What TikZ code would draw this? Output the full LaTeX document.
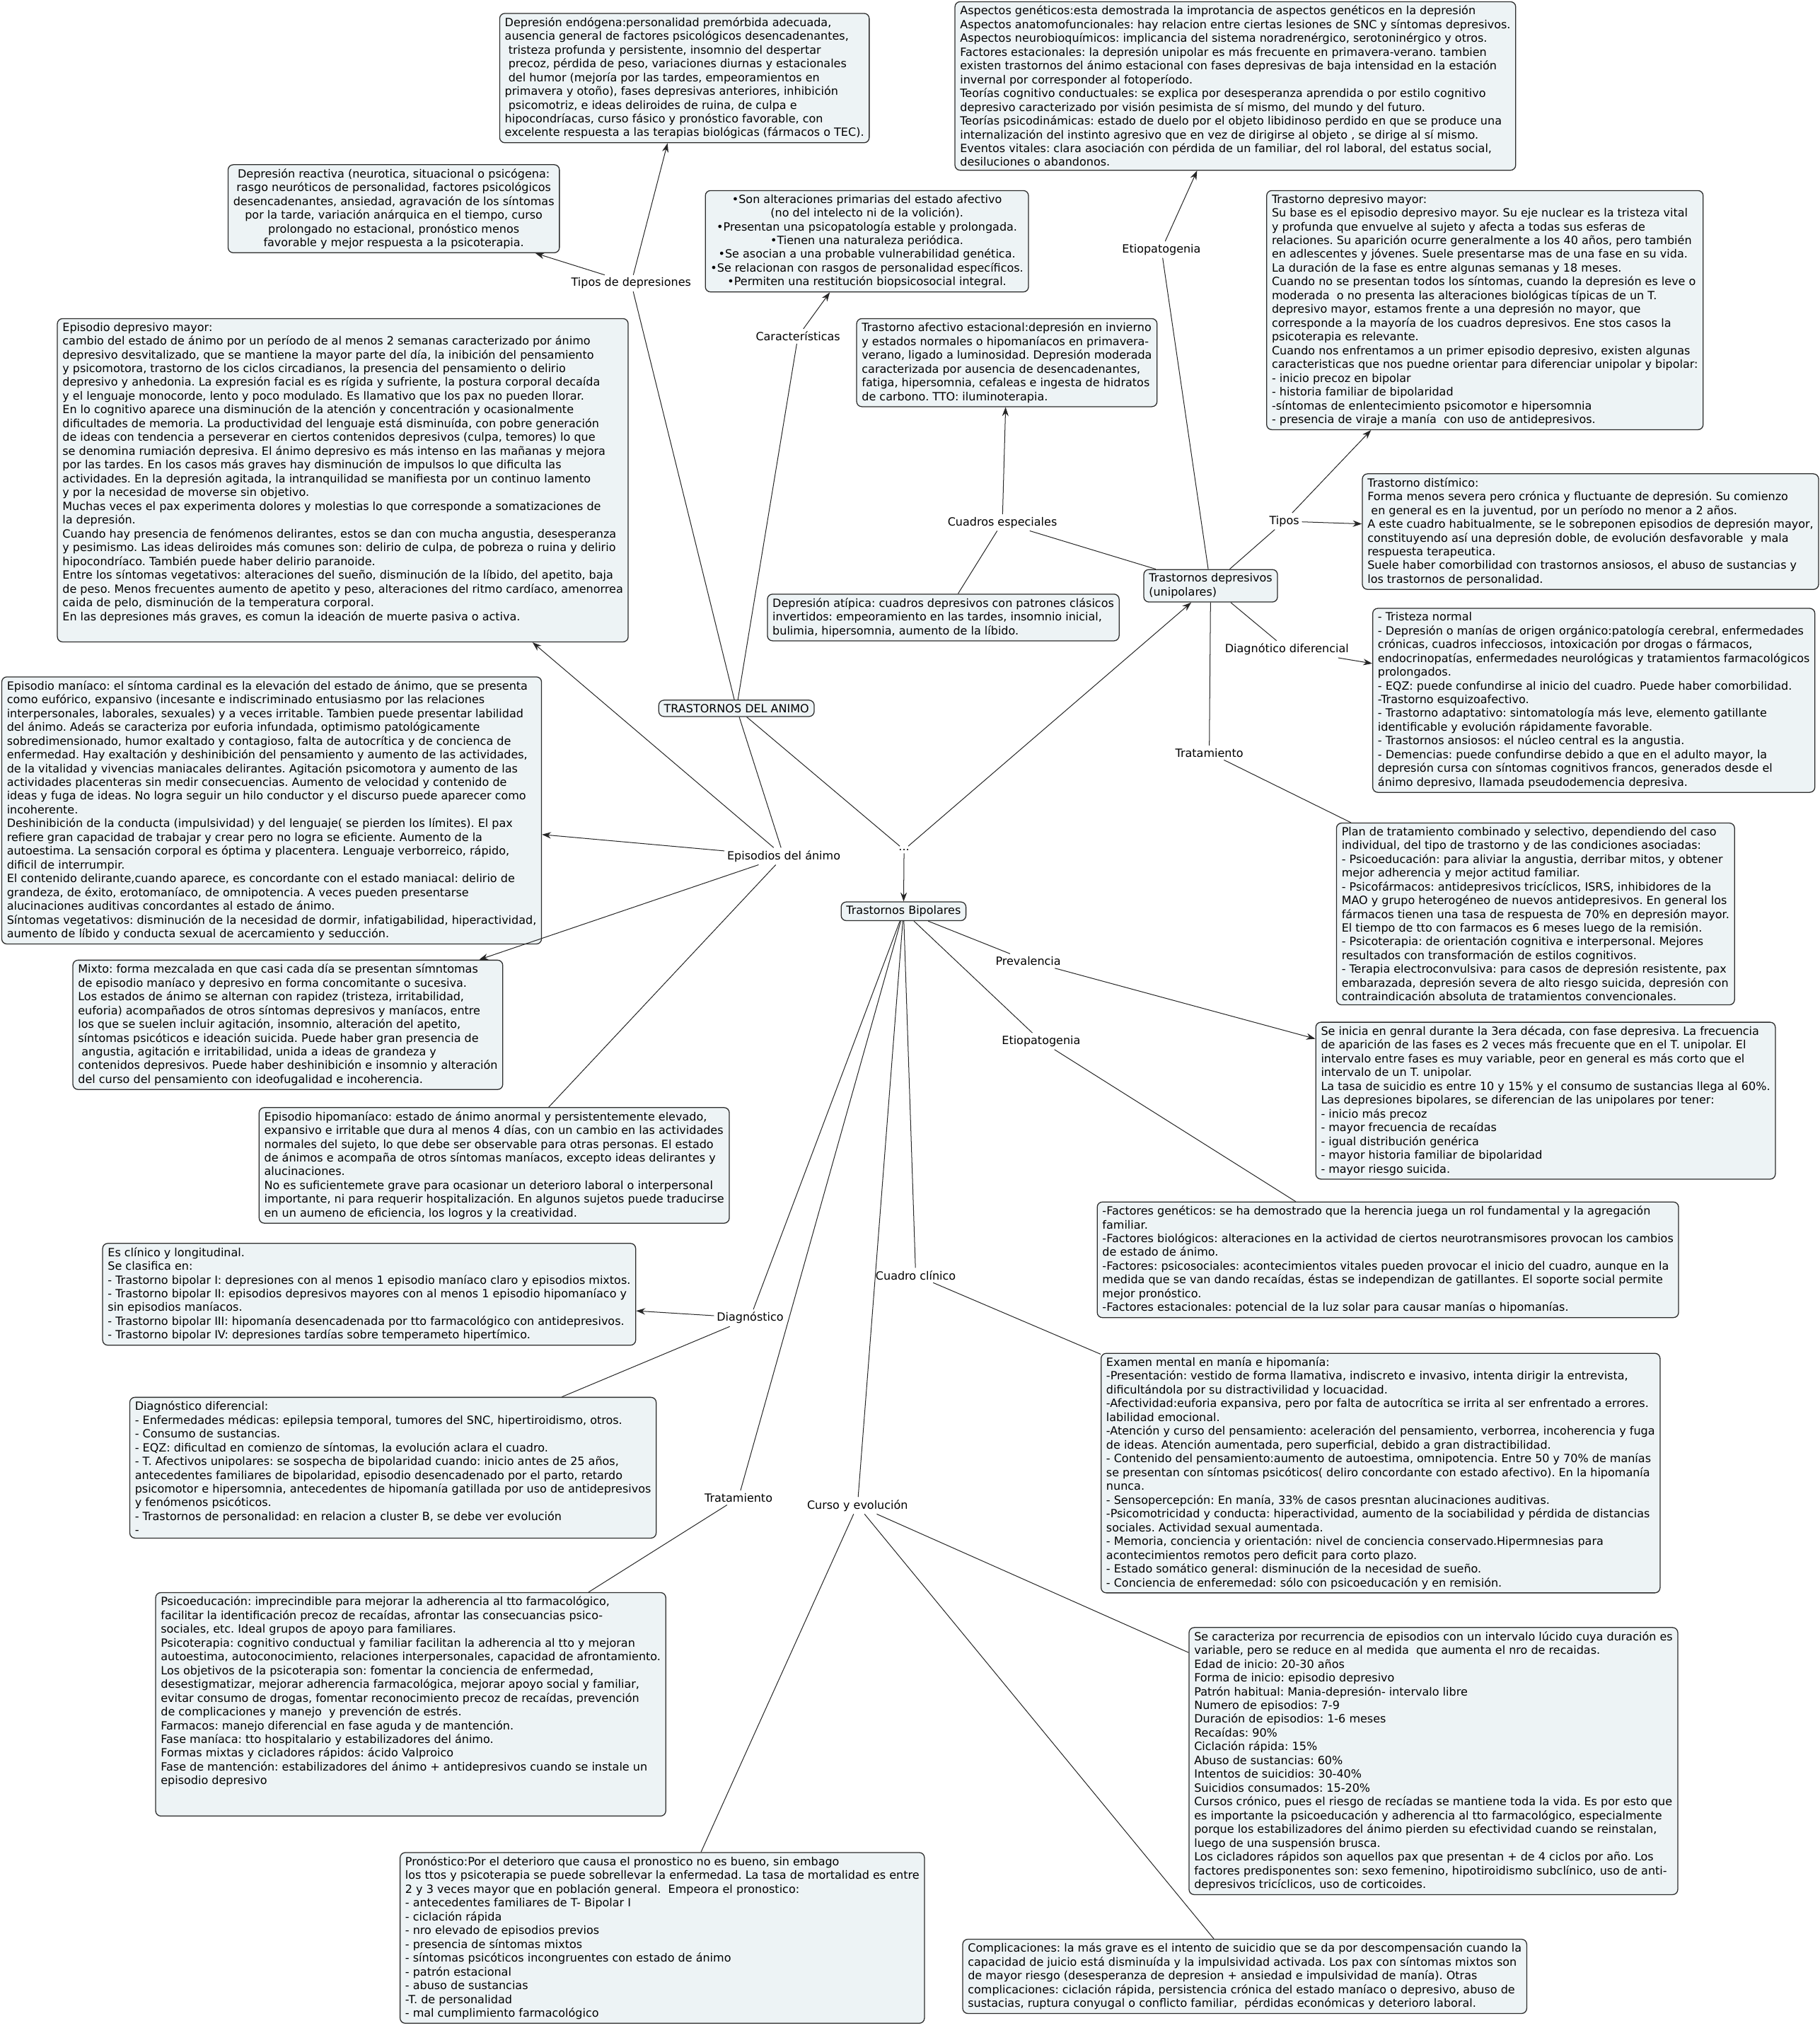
\documentclass[tikz,border=0pt]{standalone}
\usepackage{fontspec}
\setmainfont{DejaVu Sans}
\usetikzlibrary{arrows.meta}
\frenchspacing

\definecolor{boxfill}{RGB}{237,243,245}
\definecolor{boxline}{RGB}{45,45,45}

\tikzset{
	mapfont/.style={font=\fontsize{8.75}{10.65}\selectfont},
	concept/.style={mapfont, draw=boxline, fill=boxfill, rounded corners=4pt, line width=0.7pt,
		align=left, anchor=north west, inner xsep=4pt, inner ysep=3pt},
	centred/.style={concept, align=center},
	linkphrase/.style={mapfont, inner sep=2pt},
	conn/.style={draw=black!85, line width=0.55pt},
	arr/.style={conn, -{Stealth[length=7pt,width=5pt]}}
}

\begin{document}
\begin{tikzpicture}[x=1pt,y=-1pt]
	
	\useasboundingbox (0,0) rectangle (1407,1568);
	
	% Main concepts
	\node[concept] (tda) at (509,541) {TRASTORNOS DEL ANIMO};
	\node[concept] (tdep) at (884,440) {Trastornos depresivos\\(unipolares)};
	\node[concept] (tb) at (650,697) {Trastornos Bipolares};
	
	% Tipos de depresiones
	\node[concept] (endog) at (386,10) {Depresión endógena:personalidad premórbida adecuada,\\
		ausencia general de factores psicológicos desencadenantes,\\
		\ tristeza profunda y persistente, insomnio del despertar\\
		\ precoz, pérdida de peso, variaciones diurnas y estacionales\\
		\ del humor (mejoría por las tardes, empeoramientos en\\
		primavera y otoño), fases depresivas anteriores, inhibición\\
		\ psicomotriz, e ideas deliroides de ruina, de culpa e\\
		hipocondríacas, curso fásico y pronóstico favorable, con\\
		excelente respuesta a las terapias biológicas (fármacos o TEC).};
	\node[centred] (reac) at (176,127) {Depresión reactiva (neurotica, situacional o psicógena:\\
		rasgo neuróticos de personalidad, factores psicológicos\\
		desencadenantes, ansiedad, agravación de los síntomas\\
		por la tarde, variación anárquica en el tiempo, curso\\
		prolongado no estacional, pronóstico menos\\
		favorable y mejor respuesta a la psicoterapia.};
	
	% Caracteristicas
	\node[centred] (caractbox) at (545,147) {•Son alteraciones primarias del estado afectivo\\
		(no del intelecto ni de la volición).\\
		•Presentan una psicopatología estable y prolongada.\\
		•Tienen una naturaleza periódica.\\
		•Se asocian a una probable vulnerabilidad genética.\\
		•Se relacionan con rasgos de personalidad específicos.\\
		•Permiten una restitución biopsicosocial integral.};
	
	% Etiopatogenia (unipolares)
	\node[concept] (aspect) at (738,1) {Aspectos genéticos:esta demostrada la improtancia de aspectos genéticos en la depresión\\
		Aspectos anatomofuncionales: hay relacion entre ciertas lesiones de SNC y síntomas depresivos.\\
		Aspectos neurobioquímicos: implicancia del sistema noradrenérgico, serotoninérgico y otros.\\
		Factores estacionales: la depresión unipolar es más frecuente en primavera-verano. tambien\\
		existen trastornos del ánimo estacional con fases depresivas de baja intensidad en la estación\\
		invernal por corresponder al fotoperíodo.\\
		Teorías cognitivo conductuales: se explica por desesperanza aprendida o por estilo cognitivo\\
		depresivo caracterizado por visión pesimista de sí mismo, del mundo y del futuro.\\
		Teorías psicodinámicas: estado de duelo por el objeto libidinoso perdido en que se produce una\\
		internalización del instinto agresivo que en vez de dirigirse al objeto , se dirige al sí mismo.\\
		Eventos vitales: clara asociación con pérdida de un familiar, del rol laboral, del estatus social,\\
		desiluciones o abandonos.};
	
	% Tipos (unipolares)
	\node[concept] (tdm) at (979,147) {Trastorno depresivo mayor:\\
		Su base es el episodio depresivo mayor. Su eje nuclear es la tristeza vital\\
		y profunda que envuelve al sujeto y afecta a todas sus esferas de\\
		relaciones. Su aparición ocurre generalmente a los 40 años, pero también\\
		en adlescentes y jóvenes. Suele presentarse mas de una fase en su vida.\\
		La duración de la fase es entre algunas semanas y 18 meses.\\
		Cuando no se presentan todos los síntomas, cuando la depresión es leve o\\
		moderada \ o no presenta las alteraciones biológicas típicas de un T.\\
		depresivo mayor, estamos frente a una depresión no mayor, que\\
		corresponde a la mayoría de los cuadros depresivos. Ene stos casos la\\
		psicoterapia es relevante.\\
		Cuando nos enfrentamos a un primer episodio depresivo, existen algunas\\
		caracteristicas que nos puedne orientar para diferenciar unipolar y bipolar:\\
		- inicio precoz en bipolar\\
		- historia familiar de bipolaridad\\
		-síntomas de enlentecimiento psicomotor e hipersomnia\\
		- presencia de viraje a manía \ con uso de antidepresivos.};
	\node[concept] (distim) at (1053,366) {Trastorno distímico:\\
		Forma menos severa pero crónica y fluctuante de depresión. Su comienzo\\
		\ en general es en la juventud, por un período no menor a 2 años.\\
		A este cuadro habitualmente, se le sobreponen episodios de depresión mayor,\\
		constituyendo así una depresión doble, de evolución desfavorable \ y mala\\
		respuesta terapeutica.\\
		Suele haber comorbilidad con trastornos ansiosos, el abuso de sustancias y\\
		los trastornos de personalidad.};
	
	% Cuadros especiales
	\node[concept] (estac) at (662,246) {Trastorno afectivo estacional:depresión en invierno\\
		y estados normales o hipomaníacos en primavera-\\
		verano, ligado a luminosidad. Depresión moderada\\
		caracterizada por ausencia de desencadenantes,\\
		fatiga, hipersomnia, cefaleas e ingesta de hidratos\\
		de carbono. TTO: iluminoterapia.};
	\node[concept] (atip) at (593,459) {Depresión atípica: cuadros depresivos con patrones clásicos\\
		invertidos: empeoramiento en las tardes, insomnio inicial,\\
		bulimia, hipersomnia, aumento de la líbido.};
	
	% Diagnostico diferencial y tratamiento (unipolares)
	\node[concept] (trist) at (1061,470) {- Tristeza normal\\
		- Depresión o manías de origen orgánico:patología cerebral, enfermedades\\
		crónicas, cuadros infecciosos, intoxicación por drogas o fármacos,\\
		endocrinopatías, enfermedades neurológicas y tratamientos farmacológicos\\
		prolongados.\\
		- EQZ: puede confundirse al inicio del cuadro. Puede haber comorbilidad.\\
		-Trastorno esquizoafectivo.\\
		- Trastorno adaptativo: sintomatología más leve, elemento gatillante\\
		identificable y evolución rápidamente favorable.\\
		- Trastornos ansiosos: el núcleo central es la angustia.\\
		- Demencias: puede confundirse debido a que en el adulto mayor, la\\
		depresión cursa con síntomas cognitivos francos, generados desde el\\
		ánimo depresivo, llamada pseudodemencia depresiva.};
	\node[concept] (plan) at (1033,636) {Plan de tratamiento combinado y selectivo, dependiendo del caso\\
		individual, del tipo de trastorno y de las condiciones asociadas:\\
		- Psicoeducación: para aliviar la angustia, derribar mitos, y obtener\\
		mejor adherencia y mejor actitud familiar.\\
		- Psicofármacos: antidepresivos tricíclicos, ISRS, inhibidores de la\\
		MAO y grupo heterogéneo de nuevos antidepresivos. En general los\\
		fármacos tienen una tasa de respuesta de 70\% en depresión mayor.\\
		El tiempo de tto con farmacos es 6 meses luego de la remisión.\\
		- Psicoterapia: de orientación cognitiva e interpersonal. Mejores\\
		resultados con transformación de estilos cognitivos.\\
		- Terapia electroconvulsiva: para casos de depresión resistente, pax\\
		embarazada, depresión severa de alto riesgo suicida, depresión con\\
		contraindicación absoluta de tratamientos convencionales.};
	
	% Episodios del animo
	\node[concept] (edm) at (44,246) {Episodio depresivo mayor:\\
		cambio del estado de ánimo por un período de al menos 2 semanas caracterizado por ánimo\\
		depresivo desvitalizado, que se mantiene la mayor parte del día, la inibición del pensamiento\\
		y psicomotora, trastorno de los ciclos circadianos, la presencia del pensamiento o delirio\\
		depresivo y anhedonia. La expresión facial es es rígida y sufriente, la postura corporal decaída\\
		y el lenguaje monocorde, lento y poco modulado. Es llamativo que los pax no pueden llorar.\\
		En lo cognitivo aparece una disminución de la atención y concentración y ocasionalmente\\
		dificultades de memoria. La productividad del lenguaje está disminuída, con pobre generación\\
		de ideas con tendencia a perseverar en ciertos contenidos depresivos (culpa, temores) lo que\\
		se denomina rumiación depresiva. El ánimo depresivo es más intenso en las mañanas y mejora\\
		por las tardes. En los casos más graves hay disminución de impulsos lo que dificulta las\\
		actividades. En la depresión agitada, la intranquilidad se manifiesta por un continuo lamento\\
		y por la necesidad de moverse sin objetivo.\\
		Muchas veces el pax experimenta dolores y molestias lo que corresponde a somatizaciones de\\
		la depresión.\\
		Cuando hay presencia de fenómenos delirantes, estos se dan con mucha angustia, desesperanza\\
		y pesimismo. Las ideas deliroides más comunes son: delirio de culpa, de pobreza o ruina y delirio\\
		hipocondríaco. También puede haber delirio paranoide.\\
		Entre los síntomas vegetativos: alteraciones del sueño, disminución de la líbido, del apetito, baja\\
		de peso. Menos frecuentes aumento de apetito y peso, alteraciones del ritmo cardíaco, amenorrea\\
		caida de pelo, disminución de la temperatura corporal.\\
		En las depresiones más graves, es comun la ideación de muerte pasiva o activa.\\[3pt] ~};
	\node[concept] (mania) at (1,523) {Episodio maníaco: el síntoma cardinal es la elevación del estado de ánimo, que se presenta\\
		como eufórico, expansivo (incesante e indiscriminado entusiasmo por las relaciones\\
		interpersonales, laborales, sexuales) y a veces irritable. Tambien puede presentar labilidad\\
		del ánimo. Adeás se caracteriza por euforia infundada, optimismo patológicamente\\
		sobredimensionado, humor exaltado y contagioso, falta de autocrítica y de concienca de\\
		enfermedad. Hay exaltación y deshinibición del pensamiento y aumento de las actividades,\\
		de la vitalidad y vivencias maniacales delirantes. Agitación psicomotora y aumento de las\\
		actividades placenteras sin medir consecuencias. Aumento de velocidad y contenido de\\
		ideas y fuga de ideas. No logra seguir un hilo conductor y el discurso puede aparecer como\\
		incoherente.\\
		Deshinibición de la conducta (impulsividad) y del lenguaje( se pierden los límites). El pax\\
		refiere gran capacidad de trabajar y crear pero no logra se eficiente. Aumento de la\\
		autoestima. La sensación corporal es óptima y placentera. Lenguaje verborreico, rápido,\\
		dificil de interrumpir.\\
		El contenido delirante,cuando aparece, es concordante con el estado maniacal: delirio de\\
		grandeza, de éxito, erotomaníaco, de omnipotencia. A veces pueden presentarse\\
		alucinaciones auditivas concordantes al estado de ánimo.\\
		Síntomas vegetativos: disminución de la necesidad de dormir, infatigabilidad, hiperactividad,\\
		aumento de líbido y conducta sexual de acercamiento y seducción.};
	\node[concept] (mixto) at (56,742) {Mixto: forma mezcalada en que casi cada día se presentan símntomas\\
		de episodio maníaco y depresivo en forma concomitante o sucesiva.\\
		Los estados de ánimo se alternan con rapidez (tristeza, irritabilidad,\\
		euforia) acompañados de otros síntomas depresivos y maníacos, entre\\
		los que se suelen incluir agitación, insomnio, alteración del apetito,\\
		síntomas psicóticos e ideación suicida. Puede haber gran presencia de\\
		\ angustia, agitación e irritabilidad, unida a ideas de grandeza y\\
		contenidos depresivos. Puede haber deshinibición e insomnio y alteración\\
		del curso del pensamiento con ideofugalidad e incoherencia.};
	\node[concept] (hipo) at (200,856) {Episodio hipomaníaco: estado de ánimo anormal y persistentemente elevado,\\
		expansivo e irritable que dura al menos 4 días, con un cambio en las actividades\\
		normales del sujeto, lo que debe ser observable para otras personas. El estado\\
		de ánimos e acompaña de otros síntomas maníacos, excepto ideas delirantes y\\
		alucinaciones.\\
		No es suficientemete grave para ocasionar un deterioro laboral o interpersonal\\
		importante, ni para requerir hospitalización. En algunos sujetos puede traducirse\\
		en un aumeno de eficiencia, los logros y la creatividad.};
	
	% Bipolares: prevalencia, etiopatogenia, cuadro clinico
	\node[concept] (inicia) at (1017,790) {Se inicia en genral durante la 3era década, con fase depresiva. La frecuencia\\
		de aparición de las fases es 2 veces más frecuente que en el T. unipolar. El\\
		intervalo entre fases es muy variable, peor en general es más corto que el\\
		intervalo de un T. unipolar.\\
		La tasa de suicidio es entre 10 y 15\% y el consumo de sustancias llega al 60\%.\\
		Las depresiones bipolares, se diferencian de las unipolares por tener:\\
		- inicio más precoz\\
		- mayor frecuencia de recaídas\\
		- igual distribución genérica\\
		- mayor historia familiar de bipolaridad\\
		- mayor riesgo suicida.};
	\node[concept] (factor) at (848,929) {-Factores genéticos: se ha demostrado que la herencia juega un rol fundamental y la agregación\\
		familiar.\\
		-Factores biológicos: alteraciones en la actividad de ciertos neurotransmisores provocan los cambios\\
		de estado de ánimo.\\
		-Factores: psicosociales: acontecimientos vitales pueden provocar el inicio del cuadro, aunque en la\\
		medida que se van dando recaídas, éstas se independizan de gatillantes. El soporte social permite\\
		mejor pronóstico.\\
		-Factores estacionales: potencial de la luz solar para causar manías o hipomanías.};
	\node[concept] (examen) at (851,1046) {Examen mental en manía e hipomanía:\\
		-Presentación: vestido de forma llamativa, indiscreto e invasivo, intenta dirigir la entrevista,\\
		dificultándola por su distractivilidad y locuacidad.\\
		-Afectividad:euforia expansiva, pero por falta de autocrítica se irrita al ser enfrentado a errores.\\
		labilidad emocional.\\
		-Atención y curso del pensamiento: aceleración del pensamiento, verborrea, incoherencia y fuga\\
		de ideas. Atención aumentada, pero superficial, debido a gran distractibilidad.\\
		- Contenido del pensamiento:aumento de autoestima, omnipotencia. Entre 50 y 70\% de manías\\
		se presentan con síntomas psicóticos( deliro concordante con estado afectivo). En la hipomanía\\
		nunca.\\
		- Sensopercepción: En manía, 33\% de casos presntan alucinaciones auditivas.\\
		-Psicomotricidad y conducta: hiperactividad, aumento de la sociabilidad y pérdida de distancias\\
		sociales. Actividad sexual aumentada.\\
		- Memoria, conciencia y orientación: nivel de conciencia conservado.Hipermnesias para\\
		acontecimientos remotos pero deficit para corto plazo.\\
		- Estado somático general: disminución de la necesidad de sueño.\\
		- Conciencia de enferemedad: sólo con psicoeducación y en remisión.};
	
	% Bipolares: diagnostico y tratamiento
	\node[concept] (clinico) at (79,961) {Es clínico y longitudinal.\\
		Se clasifica en:\\
		- Trastorno bipolar I: depresiones con al menos 1 episodio maníaco claro y episodios mixtos.\\
		- Trastorno bipolar II: episodios depresivos mayores con al menos 1 episodio hipomaníaco y\\
		sin episodios maníacos.\\
		- Trastorno bipolar III: hipomanía desencadenada por tto farmacológico con antidepresivos.\\
		- Trastorno bipolar IV: depresiones tardías sobre temperameto hipertímico.};
	\node[concept] (dxdif) at (100,1080) {Diagnóstico diferencial:\\
		- Enfermedades médicas: epilepsia temporal, tumores del SNC, hipertiroidismo, otros.\\
		- Consumo de sustancias.\\
		- EQZ: dificultad en comienzo de síntomas, la evolución aclara el cuadro.\\
		- T. Afectivos unipolares: se sospecha de bipolaridad cuando: inicio antes de 25 años,\\
		antecedentes familiares de bipolaridad, episodio desencadenado por el parto, retardo\\
		psicomotor e hipersomnia, antecedentes de hipomanía gatillada por uso de antidepresivos\\
		y fenómenos psicóticos.\\
		- Trastornos de personalidad: en relacion a cluster B, se debe ver evolución\\
		-};
	\node[concept] (psico) at (120,1231) {Psicoeducación: imprecindible para mejorar la adherencia al tto farmacológico,\\
		facilitar la identificación precoz de recaídas, afrontar las consecuancias psico-\\
		sociales, etc. Ideal grupos de apoyo para familiares.\\
		Psicoterapia: cognitivo conductual y familiar facilitan la adherencia al tto y mejoran\\
		autoestima, autoconocimiento, relaciones interpersonales, capacidad de afrontamiento.\\
		Los objetivos de la psicoterapia son: fomentar la conciencia de enfermedad,\\
		desestigmatizar, mejorar adherencia farmacológica, mejorar apoyo social y familiar,\\
		evitar consumo de drogas, fomentar reconocimiento precoz de recaídas, prevención\\
		de complicaciones y manejo \ y prevención de estrés.\\
		Farmacos: manejo diferencial en fase aguda y de mantención.\\
		Fase maníaca: tto hospitalario y estabilizadores del ánimo.\\
		Formas mixtas y cicladores rápidos: ácido Valproico\\
		Fase de mantención: estabilizadores del ánimo + antidepresivos cuando se instale un\\
		episodio depresivo\\ ~\\ ~};
	
	% Bipolares: curso y evolucion
	\node[concept] (cursobox) at (919,1258) {Se caracteriza por recurrencia de episodios con un intervalo lúcido cuya duración es\\
		variable, pero se reduce en al medida \ que aumenta el nro de recaidas.\\
		Edad de inicio: 20-30 años\\
		Forma de inicio: episodio depresivo\\
		Patrón habitual: Mania-depresión- intervalo libre\\
		Numero de episodios: 7-9\\
		Duración de episodios: 1-6 meses\\
		Recaídas: 90\%\\
		Ciclación rápida: 15\%\\
		Abuso de sustancias: 60\%\\
		Intentos de suicidios: 30-40\%\\
		Suicidios consumados: 15-20\%\\
		Cursos crónico, pues el riesgo de recíadas se mantiene toda la vida. Es por esto que\\
		es importante la psicoeducación y adherencia al tto farmacológico, especialmente\\
		porque los estabilizadores del ánimo pierden su efectividad cuando se reinstalan,\\
		luego de una suspensión brusca.\\
		Los cicladores rápidos son aquellos pax que presentan + de 4 ciclos por año. Los\\
		factores predisponentes son: sexo femenino, hipotiroidismo subclínico, uso de anti-\\
		depresivos tricíclicos, uso de corticoides.};
	\node[concept] (pron) at (309,1432) {Pronóstico:Por el deterioro que causa el pronostico no es bueno, sin embago\\
		los ttos y psicoterapia se puede sobrellevar la enfermedad. La tasa de mortalidad es entre\\
		2 y 3 veces mayor que en población general. \ Empeora el pronostico:\\
		- antecedentes familiares de T- Bipolar I\\
		- ciclación rápida\\
		- nro elevado de episodios previos\\
		- presencia de síntomas mixtos\\
		- síntomas psicóticos incongruentes con estado de ánimo\\
		- patrón estacional\\
		- abuso de sustancias\\
		-T. de personalidad\\
		- mal cumplimiento farmacológico};
	\node[concept] (compl) at (744,1499) {Complicaciones: la más grave es el intento de suicidio que se da por descompensación cuando la\\
		capacidad de juicio está disminuída y la impulsividad activada. Los pax con síntomas mixtos son\\
		de mayor riesgo (desesperanza de depresion + ansiedad e impulsividad de manía). Otras\\
		complicaciones: ciclación rápida, persistencia crónica del estado maníaco o depresivo, abuso de\\
		sustacias, ruptura conyugal o conflicto familiar, \ pérdidas económicas y deterioro laboral.};
	
	% Linking phrases
	\node[linkphrase] (tipdep) at (488,219) {Tipos de depresiones};
	\node[linkphrase] (caract) at (617,260) {Características};
	\node[linkphrase] (episod) at (606,662) {Episodios del ánimo};
	\node[linkphrase] (dots) at (699,657) {...};
	\node[linkphrase] (etio1) at (898,193) {Etiopatogenia};
	\node[linkphrase] (cuadesp) at (775,404) {Cuadros especiales};
	\node[linkphrase] (tipos) at (993,403) {Tipos};
	\node[linkphrase] (diagdif) at (995,502) {Diagnótico diferencial};
	\node[linkphrase] (trat1) at (935,582) {Tratamiento};
	\node[linkphrase] (preval) at (795,743) {Prevalencia};
	\node[linkphrase] (etio2) at (805,805) {Etiopatogenia};
	\node[linkphrase] (cuadcl) at (708,986) {Cuadro clínico};
	\node[linkphrase] (diag) at (580,1019) {Diagnóstico};
	\node[linkphrase] (trat2) at (571,1158) {Tratamiento};
	\node[linkphrase] (curso) at (663,1164) {Curso y evolución};
	
	% Connectors from TRASTORNOS DEL ANIMO
	\draw[conn] (tda) -- (tipdep);
	\draw[arr] (tipdep) -- (endog);
	\draw[arr] (tipdep) -- (reac);
	\draw[conn] (tda) -- (caract);
	\draw[arr] (caract) -- (caractbox);
	\draw[conn] (tda) -- (episod);
	\draw[arr] (episod) -- (edm);
	\draw[arr] (episod) -- (mania);
	\draw[arr] (episod) -- (mixto);
	\draw[conn] (episod) -- (hipo);
	\draw[conn] (tda) -- (dots);
	\draw[arr] (dots) -- (tdep);
	\draw[arr] (dots) -- (tb);
	
	% Connectors from Trastornos depresivos
	\draw[conn] (tdep) -- (etio1);
	\draw[arr] (etio1) -- (aspect);
	\draw[conn] (tdep) -- (cuadesp);
	\draw[arr] (cuadesp) -- (estac);
	\draw[conn] (cuadesp) -- (atip);
	\draw[conn] (tdep) -- (tipos);
	\draw[arr] (tipos) -- (tdm);
	\draw[arr] (tipos) -- (distim);
	\draw[conn] (tdep) -- (diagdif);
	\draw[arr] (diagdif) -- (trist);
	\draw[conn] (tdep) -- (trat1);
	\draw[conn] (trat1) -- (plan);
	
	% Connectors from Trastornos Bipolares
	\draw[conn] (tb) -- (preval);
	\draw[arr] (preval) -- (inicia);
	\draw[conn] (tb) -- (etio2);
	\draw[conn] (etio2) -- (factor);
	\draw[conn] (tb) -- (cuadcl);
	\draw[conn] (cuadcl) -- (examen);
	\draw[conn] (tb) -- (diag);
	\draw[arr] (diag) -- (clinico);
	\draw[conn] (diag) -- (dxdif);
	\draw[conn] (tb) -- (trat2);
	\draw[conn] (trat2) -- (psico);
	\draw[conn] (tb) -- (curso);
	\draw[conn] (curso) -- (cursobox);
	\draw[conn] (curso) -- (pron);
	\draw[conn] (curso) -- (compl);
	
\end{tikzpicture}
\end{document}
